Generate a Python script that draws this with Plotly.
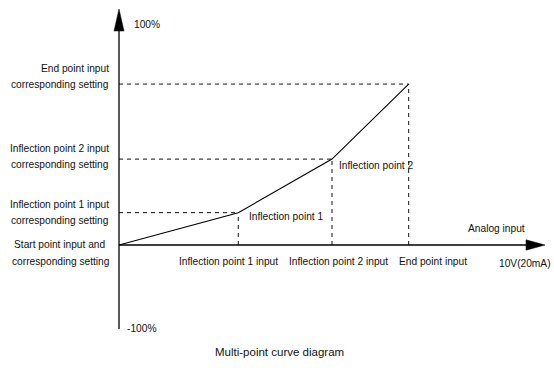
import plotly.graph_objects as go

# ---- data (schematic values) ----
x_points = [0.0, 2.8, 5.0, 6.8]          # analog input (V), 10 V = full scale
y_points = [0.0, 13.7, 36.4, 68.2]       # corresponding setting (%)
x_full = 10.0
y_top = 100.0
y_bottom_axis = -35.6

point_names = ["Start point", "Inflection point 1", "Inflection point 2", "End point"]
left_labels = [
    ("Start point input and", "corresponding setting"),
    ("Inflection point 1 input", "corresponding setting"),
    ("Inflection point 2 input", "corresponding setting"),
    ("End point input", "corresponding setting"),
]
x_labels = ["Inflection point 1 input", "Inflection point 2 input", "End point input"]

# ---- geometry helpers (pixel scale of the figure) ----
W, H = 554, 376
X0_PX, Y0_PX = 119, 245
SX = (545 - X0_PX) / x_full      # px per V
SY = (Y0_PX - 9) / y_top         # px per %
xr = [-X0_PX / SX, (W - X0_PX) / SX]
yr = [-(H - Y0_PX) / SY, Y0_PX / SY]

def dx(px):
    return px / SX

def dy(px):
    return px / SY

FONT = "Arial, Liberation Sans, sans-serif"
TXT = "#111111"
FS = 10.2

fig = go.Figure()

# curve
fig.add_trace(go.Scatter(x=x_points, y=y_points, mode="lines",
                         line=dict(color="black", width=1.1),
                         hoverinfo="skip", showlegend=False))

shapes = []
# dashed guides
for xv, yv in zip(x_points[1:], y_points[1:]):
    shapes.append(dict(type="line", x0=0, x1=xv, y0=yv, y1=yv,
                       line=dict(color="#111", width=1, dash="4px,4px")))
    shapes.append(dict(type="line", x0=xv, x1=xv, y0=0, y1=yv,
                       line=dict(color="#111", width=1, dash="4px,4px")))
# axes
shapes.append(dict(type="line", x0=0, x1=0, y0=y_bottom_axis, y1=y_top - dy(10),
                   line=dict(color="black", width=1.3)))
shapes.append(dict(type="line", x0=0, x1=x_full - dx(10), y0=0, y1=0,
                   line=dict(color="black", width=1.3)))
# arrowheads
shapes.append(dict(type="path",
                   path=f"M {0} {y_top} L {-dx(5)} {y_top - dy(22)} L {dx(5)} {y_top - dy(22)} Z",
                   fillcolor="black", line=dict(color="black", width=0.5)))
shapes.append(dict(type="path",
                   path=f"M {x_full} 0 L {x_full - dx(19)} {dy(5.2)} L {x_full - dx(19)} {-dy(5.2)} Z",
                   fillcolor="black", line=dict(color="black", width=0.5)))

ann = []

def text(x, y, s, xanchor="center", xshift=0, yshift=0, size=FS, xref="x", yref="y"):
    ann.append(dict(x=x, y=y, xref=xref, yref=yref, text=s, showarrow=False,
                    xanchor=xanchor, yanchor="middle", xshift=xshift, yshift=yshift,
                    font=dict(family=FONT, size=size, color=TXT)))

# left labels (two lines each)
left_shifts = [(1, -16), (8, -8), (11, -5), (16, 0)]
for (l1, l2), yv, (s1, s2), i in zip(left_labels, y_points, left_shifts, range(4)):
    if i == 0:
        text(0, yv, l1, xanchor="center", xshift=-59, yshift=s1)
        text(0, yv, l2, xanchor="center", xshift=-58, yshift=s2)
    else:
        text(0, yv, l1, xanchor="right", xshift=-8, yshift=s1)
        text(0, yv, l2, xanchor="right", xshift=-8, yshift=s2)

# point labels
text(x_points[1], y_points[1], point_names[1], xanchor="left", xshift=9, yshift=-4)
text(x_points[2], y_points[2], point_names[2], xanchor="left", xshift=5, yshift=-6)

# x labels
x_label_shifts = [-10, 6, 24]
for xv, s, sh in zip(x_points[1:], x_labels, x_label_shifts):
    text(xv, 0, s, xshift=sh, yshift=-16)
text(x_full, 0, "10V(20mA)", xshift=-20, yshift=-18)
text(x_full, 0, "Analog input", xshift=-49, yshift=17)

# y axis labels
text(0, y_top, "100%", xanchor="left", xshift=13, yshift=-15)
text(0, y_bottom_axis, "-100%", xanchor="left", xshift=6, yshift=1)

# title
text(279 / W, 1 - 352 / H, "Multi-point curve diagram", size=11.5, xref="paper", yref="paper")

fig.update_layout(
    width=W, height=H,
    margin=dict(l=0, r=0, t=0, b=0),
    paper_bgcolor="white", plot_bgcolor="white",
    xaxis=dict(range=xr, visible=False, fixedrange=True),
    yaxis=dict(range=yr, visible=False, fixedrange=True),
    shapes=shapes, annotations=ann, showlegend=False,
)

fig.write_html("out.html", config={"displayModeBar": False},
               post_script="document.body.style.margin='0';document.body.style.overflow='hidden';")
